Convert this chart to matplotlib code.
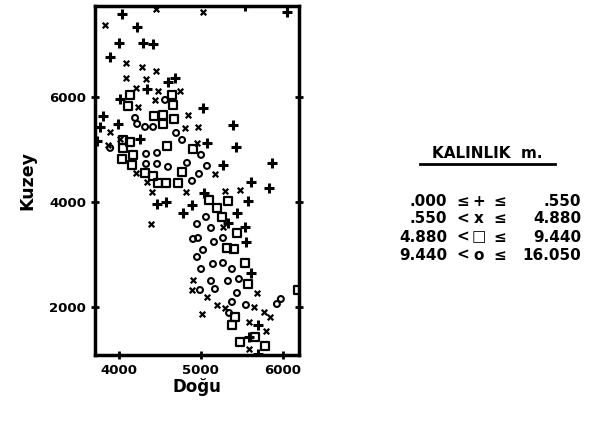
import matplotlib.pyplot as plt

# thickness classes (KALINLIK m.)
plus_x = [4040, 5540, 6050, 4225, 4010, 4298, 4419, 3897, 4686, 4601, 4346, 4018, 5027,
          3812, 3994, 3775, 5391, 5075, 5428, 3739, 4261, 5270, 5865, 5610, 5829, 5039,
          5573, 4468, 4577, 4893, 4784, 5440, 5330, 5537, 5549, 5610, 5695, 5586, 5695]
plus_y = [7570, 7720, 7610, 7320, 7020, 7020, 7001, 6754, 6355, 6279, 6146, 5956, 5785,
          5633, 5481, 5424, 5462, 5120, 5044, 5158, 5196, 4703, 4740, 4379, 4265, 4170,
          4018, 3961, 3999, 3942, 3790, 3790, 3600, 3524, 3239, 2650, 1663, 1435, 1112]

cross_x = [4456, 5027, 3836, 4091, 4286, 4456, 4091, 4334, 4213, 4480, 4747, 4237, 4443,
           4844, 3897, 4808, 4966, 4954, 4018, 3872, 4213, 5172, 4346, 4407, 4820, 5294,
           5476, 4395, 5270, 4905, 4893, 5683, 5075, 5646, 5197, 5294, 5768, 5841, 5015,
           5586, 5792, 5586]
cross_y = [7666, 7609, 7362, 6640, 6564, 6488, 6355, 6336, 6165, 6108, 6108, 5804, 5937,
           5652, 5329, 5405, 5424, 5120, 5196, 5082, 4551, 4532, 4379, 4189, 4189, 4208,
           4227, 3580, 3524, 2517, 2327, 2270, 2194, 2004, 2042, 1985, 1910, 1815, 1872,
           1720, 1549, 1207]

sq_x = [4140, 4115, 4650, 4662, 4431, 4541, 4674, 4541, 4589, 4905, 4055, 4140, 4055,
        4176, 4043, 4164, 4322, 4419, 4772, 4723, 4480, 4577, 5100, 5330, 5197, 5258,
        5440, 5318, 5403, 5537, 5573, 6181, 5415, 5379, 5659, 5476, 5780]
sq_y = [6032, 5823, 6032, 5842, 5633, 5652, 5576, 5481, 5063, 5006, 5177, 5139, 5025,
        4893, 4817, 4703, 4551, 4494, 4570, 4361, 4361, 4361, 4038, 4019, 3886, 3714,
        3410, 3125, 3106, 2840, 2441, 2327, 1815, 1663, 1435, 1340, 1264]

circ_x = [4565, 4200, 4225, 4322, 4419, 4699, 4772, 5003, 3897, 4334, 4468, 4334, 4468,
          4601, 4832, 5075, 4978, 4893, 4954, 5063, 5124, 4905, 4966, 5160, 5270, 5027,
          4954, 5148, 5270, 5379, 5003, 5464, 5124, 5330, 4990, 5172, 5440, 5379, 5549,
          5926, 5974, 5343]
circ_y = [5937, 5595, 5481, 5424, 5424, 5310, 5177, 4893, 5025, 4912, 4931, 4722, 4722,
          4665, 4741, 4684, 4532, 4399, 3580, 3714, 3505, 3296, 3315, 3239, 3315, 3087,
          2954, 2821, 2840, 2726, 2726, 2536, 2498, 2498, 2327, 2346, 2270, 2099, 2042,
          2061, 2156, 1891]

legend_low = ['.000', '.550', '4.880', '9.440']
legend_rel = ['\u2264', '<', '<', '<']
legend_sym = ['+', 'x', '\u25a1', 'o']
legend_high = ['.550', '4.880', '9.440', '16.050']

fig = plt.figure(figsize=(6.02, 4.21), dpi=100)
ax = fig.add_axes([0.158, 0.157, 0.339, 0.829])

ax.scatter(plus_x, plus_y, marker='+', s=45, c='black', linewidths=2.2)
ax.scatter(cross_x, cross_y, marker='x', s=16, c='black', linewidths=1.6)
ax.scatter(sq_x, sq_y, marker='s', s=34, facecolors='none', edgecolors='black', linewidths=1.6)
ax.scatter(circ_x, circ_y, marker='o', s=18, facecolors='none', edgecolors='black', linewidths=1.5)

ax.set_xlim(3714, 6197)
ax.set_ylim(1094, 7723)
ax.set_xticks([4000, 5000, 6000])
ax.set_yticks([2000, 4000, 6000])
for sp in ax.spines.values():
    sp.set_linewidth(2.5)
ax.tick_params(direction='inout', length=6, width=2, labelsize=9.5, right=True, top=False)
for lab in ax.get_xticklabels() + ax.get_yticklabels():
    lab.set_fontweight('bold')
ax.set_xlabel('Do\u011fu', fontsize=12, fontweight='bold', labelpad=1)
ax.set_ylabel('Kuzey', fontsize=12.5, fontweight='bold', labelpad=9)

W, H = 602, 421
fig.text(487 / W, 1 - 153 / H, 'KALINLIK  m.', fontsize=11, fontweight='bold',
         ha='center', va='center')
fig.add_artist(plt.Line2D([420 / W, 555 / W], [1 - 164 / H, 1 - 164 / H],
                          color='black', lw=2))

rows_y = [201, 219, 237, 255]
for i in range(4):
    yy = 1 - rows_y[i] / H
    fig.text(447 / W, yy, legend_low[i], fontsize=11, fontweight='bold', ha='right', va='center')
    fig.text(463 / W, yy, legend_rel[i], fontsize=11, fontweight='bold', ha='center', va='center')
    fig.text(479 / W, yy, legend_sym[i], fontsize=11, fontweight='bold', ha='center', va='center')
    fig.text(500 / W, yy, '\u2264', fontsize=11, fontweight='bold', ha='center', va='center')
    fig.text(581 / W, yy, legend_high[i], fontsize=11, fontweight='bold', ha='right', va='center')

fig.savefig('out.png', dpi=100)
